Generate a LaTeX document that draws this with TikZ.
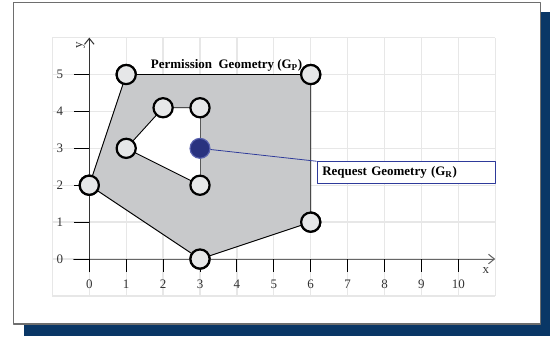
\documentclass[tikz,border=0pt]{standalone}
\usepackage{fontspec}
\setmainfont{Liberation Serif}
\usepackage{tikz}
\usetikzlibrary{arrows.meta,positioning}
\definecolor{navy}{HTML}{0A3766}
\definecolor{framegray}{HTML}{6E6E6E}
\definecolor{gridgray}{HTML}{E7E7E7}
\definecolor{areagray}{HTML}{C8C9CB}
\definecolor{dotgray}{HTML}{E6E7E8}
\definecolor{reqblue}{HTML}{2E3A9A}
\definecolor{reqfill}{HTML}{29327F}
\definecolor{ink}{HTML}{333333}
\tikzset{
    every picture/.style={line join=round},
    gridline/.style={draw=gridgray,line width=1pt},
    axisline/.style={-{Straight Barb[length=1.6mm,width=2.6mm]},line width=0.8pt},
    tickline/.style={draw=black,line width=0.7pt},
    ticklabel/.style={text=ink,font=\normalsize,inner sep=1pt},
    vertex/.style={circle,draw=black,fill=dotgray,line width=1.7pt,
      minimum size=5.2mm,inner sep=0pt,outer sep=0pt},
    reqvertex/.style={circle,draw=reqblue!80!white,fill=reqfill,line width=0.9pt,
      minimum size=5.4mm,inner sep=0pt},
    areaedge/.style={draw=black,line width=0.7pt},
    reqbox/.style={draw=reqblue,fill=white,line width=0.8pt,minimum height=6mm,
      text width=45.6mm,inner xsep=4pt,align=left,font=\normalsize\bfseries},
    title/.style={font=\normalsize\bfseries,inner sep=1pt}
}
\begin{document}
\begin{tikzpicture}
    \useasboundingbox (-2.42,-2.087) rectangle (12.485,7.02);
    % panel with shadow
    \fill[navy] (-1.76,-2.087) rectangle (12.485,6.69);
    \draw[framegray,fill=white,line width=0.8pt] (-2.06,-1.76) rectangle (12.24,6.965);
    \draw[gridline] (-1,-1) grid (11,6);
    % permission area with its hole
    \node[vertex] (pa) at (1,5) {};
    \node[vertex] (pb) at (6,5) {};
    \node[vertex] (pc) at (6,1) {};
    \node[vertex] (pd) at (3,0) {};
    \node[vertex] (pe) at (0,2) {};
    \node[vertex] (ha) at (2,4.1) {};
    \node[vertex] (hb) at (3,4.1) {};
    \node[vertex] (hc) at (3,2) {};
    \node[vertex] (hd) at (1,3) {};
    \fill[areagray] (pa.center) -- (pb.center) -- (pc.center) -- (pd.center) -- (pe.center) -- cycle;
    \fill[white] (ha.center) -- (hb.center) -- (hc.center) -- (hd.center) -- cycle;
    % axes
    \draw[axisline,draw=black!60] (-0.43,0) -- (11,0);
    \draw[axisline,draw=black!80] (0,-0.36) -- (0,6);
    \node[ticklabel] (xlab) at (10.75,-0.3) {x};
    \node[ticklabel,rotate=90] (ylab) at (-0.24,5.8) {y};
    \foreach \i in {0,...,10}{
        \draw[tickline] (\i,0) -- (\i,-0.36);
        \node[ticklabel] (xt\i) at (\i,-0.68) {\i};
    }
    \foreach \j in {0,...,5}{
        \draw[tickline] (-0.42,\j) -- (0,\j);
        \node[ticklabel] (yt\j) at (-0.8,\j) {\j};
    }
    \draw[areaedge] (pa) -- (pb) -- (pc) -- (pd) -- (pe) -- (pa);
    \draw[areaedge] (hd) -- (ha) -- (hb);
    \draw[areaedge] (hd) -- (hc);
    \draw[areaedge,draw=black!65] (hb) -- (hc);
    \foreach \v in {pa,pb,pc,pd,pe,ha,hb,hc,hd}
        \node[vertex] at (\v) {};
    % request geometry
    \node[reqvertex] (rg) at (3,3) {};
    \node[title] (ptitle) at (3.72,5.24) {Permission\ \ Geometry (G\textsubscript{P})};
    \node[reqbox,anchor=north west] (req) at (6.16,2.65) {Request Geometry (G\textsubscript{R})};
    \draw[reqblue,line width=0.6pt] (rg) -- (req.north west);
\end{tikzpicture}
\end{document}
